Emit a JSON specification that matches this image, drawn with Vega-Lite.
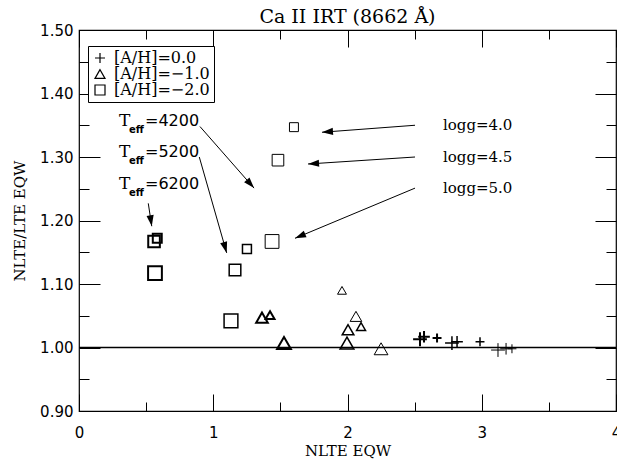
{
  "$schema": "https://vega.github.io/schema/vega-lite/v6.json",
  "width": 537,
  "height": 381,
  "autosize": {"type": "none"},
  "padding": {"left": 79, "top": 30, "right": 1, "bottom": 55},
  "background": "white",
  "title": {"text": "Ca II IRT (8662 Å)", "anchor": "middle", "frame": "group", "offset": -4, "font": "DejaVu Serif", "fontSize": 19, "fontWeight": "normal", "color": "black"},
  "config": {
    "view": {"stroke": "black", "strokeWidth": 1.2},
    "axis": {"domain": false, "grid": false, "tickColor": "black", "tickWidth": 1, "labelColor": "black", "titleColor": "black", "labelFont": "DejaVu Sans", "labelFontSize": 15, "titleFont": "DejaVu Serif", "titleFontSize": 15, "titleFontWeight": "normal"}
  },
  "datasets": {
    "pts": [
      {"ah": "[A/H]=−2.0", "teff": 4200, "logg": "4.0", "x": 1.601, "y": 1.347},
      {"ah": "[A/H]=−2.0", "teff": 4200, "logg": "4.5", "x": 1.482, "y": 1.295},
      {"ah": "[A/H]=−2.0", "teff": 4200, "logg": "5.0", "x": 1.438, "y": 1.167},
      {"ah": "[A/H]=−2.0", "teff": 5200, "logg": "4.0", "x": 1.251, "y": 1.155},
      {"ah": "[A/H]=−2.0", "teff": 5200, "logg": "4.5", "x": 1.162, "y": 1.122},
      {"ah": "[A/H]=−2.0", "teff": 5200, "logg": "5.0", "x": 1.132, "y": 1.042},
      {"ah": "[A/H]=−2.0", "teff": 6200, "logg": "4.0", "x": 0.583, "y": 1.172},
      {"ah": "[A/H]=−2.0", "teff": 6200, "logg": "4.5", "x": 0.559, "y": 1.167},
      {"ah": "[A/H]=−2.0", "teff": 6200, "logg": "5.0", "x": 0.566, "y": 1.117},
      {"ah": "[A/H]=−1.0", "teff": 4200, "logg": "4.0", "x": 1.959, "y": 1.090},
      {"ah": "[A/H]=−1.0", "teff": 4200, "logg": "4.5", "x": 2.063, "y": 1.049},
      {"ah": "[A/H]=−1.0", "teff": 4200, "logg": "5.0", "x": 2.250, "y": 0.998},
      {"ah": "[A/H]=−1.0", "teff": 5200, "logg": "4.0", "x": 2.101, "y": 1.033},
      {"ah": "[A/H]=−1.0", "teff": 5200, "logg": "4.5", "x": 2.004, "y": 1.028},
      {"ah": "[A/H]=−1.0", "teff": 5200, "logg": "5.0", "x": 1.996, "y": 1.007},
      {"ah": "[A/H]=−1.0", "teff": 6200, "logg": "4.0", "x": 1.423, "y": 1.051},
      {"ah": "[A/H]=−1.0", "teff": 6200, "logg": "4.5", "x": 1.363, "y": 1.047},
      {"ah": "[A/H]=−1.0", "teff": 6200, "logg": "5.0", "x": 1.527, "y": 1.007},
      {"ah": "[A/H]=0.0", "teff": 4200, "logg": "4.0", "x": 3.225, "y": 0.998},
      {"ah": "[A/H]=0.0", "teff": 4200, "logg": "4.5", "x": 3.181, "y": 0.998},
      {"ah": "[A/H]=0.0", "teff": 4200, "logg": "5.0", "x": 3.121, "y": 0.996},
      {"ah": "[A/H]=0.0", "teff": 5200, "logg": "4.0", "x": 2.987, "y": 1.009},
      {"ah": "[A/H]=0.0", "teff": 5200, "logg": "4.5", "x": 2.816, "y": 1.009},
      {"ah": "[A/H]=0.0", "teff": 5200, "logg": "5.0", "x": 2.778, "y": 1.007},
      {"ah": "[A/H]=0.0", "teff": 6200, "logg": "4.0", "x": 2.667, "y": 1.015},
      {"ah": "[A/H]=0.0", "teff": 6200, "logg": "4.5", "x": 2.570, "y": 1.017},
      {"ah": "[A/H]=0.0", "teff": 6200, "logg": "5.0", "x": 2.540, "y": 1.013}
    ],
    "arrows": [
      {"x": 0.901, "y": 1.348, "x2": 1.304, "y2": 1.251},
      {"x": 0.896, "y": 1.300, "x2": 1.100, "y2": 1.149},
      {"x": 0.516, "y": 1.227, "x2": 0.542, "y2": 1.191},
      {"x": 2.503, "y": 1.350, "x2": 1.810, "y2": 1.339},
      {"x": 2.503, "y": 1.300, "x2": 1.706, "y2": 1.289},
      {"x": 2.503, "y": 1.251, "x2": 1.609, "y2": 1.172}
    ],
    "logg": [
      {"label": "logg=4.0", "x": 2.711, "y": 1.350},
      {"label": "logg=4.5", "x": 2.711, "y": 1.300},
      {"label": "logg=5.0", "x": 2.711, "y": 1.251}
    ],
    "teff": [
      {"t": "T", "sub": "eff", "rest": "=4200", "x": 0.298, "y": 1.357},
      {"t": "T", "sub": "eff", "rest": "=5200", "x": 0.298, "y": 1.308},
      {"t": "T", "sub": "eff", "rest": "=6200", "x": 0.298, "y": 1.257}
    ]
  },
  "resolve": {"axis": {"x": "independent", "y": "independent"}},
  "layer": [
    {
      "data": {"values": [{"a": 1}]},
      "mark": {"type": "rule", "color": "black", "strokeWidth": 1.5},
      "encoding": {
        "x": {"datum": 0, "type": "quantitative", "scale": {"domain": [0, 4], "nice": false, "zero": false},
          "axis": {"orient": "top", "values": [0, 0.5, 1, 1.5, 2, 2.5, 3, 3.5, 4], "labels": false, "title": null,
            "tickSize": {"condition": {"test": "datum.value % 1 === 0", "value": -17}, "value": -9}}},
        "x2": {"datum": 4},
        "y": {"datum": 1.0, "type": "quantitative", "scale": {"domain": [0.9, 1.5], "nice": false, "zero": false},
          "axis": {"orient": "right", "values": [0.9, 0.95, 1.0, 1.05, 1.1, 1.15, 1.2, 1.25, 1.3, 1.35, 1.4, 1.45, 1.5], "labels": false, "title": null,
            "tickSize": {"condition": {"test": "abs(datum.value*10 - round(datum.value*10)) < 0.001", "value": -21}, "value": -10}}}
      }
    },
    {
      "data": {"name": "pts"},
      "mark": {"type": "point", "filled": false, "color": "black", "opacity": 1},
      "encoding": {
        "x": {"field": "x", "type": "quantitative",
          "axis": {"orient": "bottom", "values": [0, 0.5, 1, 1.5, 2, 2.5, 3, 3.5, 4],
            "labelExpr": "datum.value % 1 === 0 ? format(datum.value, 'd') : ''",
            "tickSize": {"condition": {"test": "datum.value % 1 === 0", "value": -17}, "value": -9},
            "labelPadding": 31, "labelFlush": false, "title": "NLTE EQW", "titlePadding": 3}},
        "y": {"field": "y", "type": "quantitative",
          "axis": {"orient": "left", "values": [0.9, 0.95, 1.0, 1.05, 1.1, 1.15, 1.2, 1.25, 1.3, 1.35, 1.4, 1.45, 1.5],
            "labelExpr": "abs(datum.value*10 - round(datum.value*10)) < 0.001 ? format(datum.value, '.2f') : ''",
            "tickSize": {"condition": {"test": "abs(datum.value*10 - round(datum.value*10)) < 0.001", "value": -21}, "value": -10},
            "labelPadding": 27, "labelFlush": false, "title": "NLTE/LTE EQW", "titlePadding": 12}},
        "shape": {"field": "ah", "type": "nominal",
          "scale": {"domain": ["[A/H]=0.0", "[A/H]=−1.0", "[A/H]=−2.0"], "range": ["M-1,0L1,0M0,-1L0,1", "triangle-up", "square"]},
          "legend": {"title": null, "orient": "none", "legendX": 9, "legendY": 16, "strokeColor": "black", "fillColor": "white", "padding": 4, "symbolSize": 100, "symbolStrokeWidth": 1.2, "symbolStrokeColor": "black", "symbolFillColor": "white", "labelFont": "DejaVu Serif", "labelFontSize": 16, "labelColor": "black", "rowPadding": 0, "labelOffset": 6}},
        "size": {"field": "logg", "type": "ordinal", "scale": {"domain": ["4.0", "4.5", "5.0"], "range": [80, 190, 320]}, "legend": null},
        "strokeWidth": {"field": "teff", "type": "ordinal", "scale": {"domain": [4200, 5200, 6200], "range": [1, 2, 4]}, "legend": null}
      }
    },
    {
      "data": {"name": "arrows"},
      "mark": {"type": "rule", "color": "black", "strokeWidth": 1},
      "encoding": {
        "x": {"field": "x", "type": "quantitative", "axis": null},
        "y": {"field": "y", "type": "quantitative", "axis": null},
        "x2": {"field": "x2"},
        "y2": {"field": "y2"}
      }
    },
    {
      "data": {"name": "arrows"},
      "transform": [{"calculate": "atan2((datum.x2 - datum.x) * 134.25, (datum.y2 - datum.y) * 635) * 180 / PI", "as": "ang"}],
      "mark": {"type": "point", "filled": true, "color": "black", "opacity": 1, "shape": "M0,0L-0.65,2L0.65,2Z", "size": 121, "strokeWidth": 0},
      "encoding": {
        "x": {"field": "x2", "type": "quantitative", "axis": null},
        "y": {"field": "y2", "type": "quantitative", "axis": null},
        "angle": {"field": "ang", "type": "quantitative", "scale": null}
      }
    },
    {
      "data": {"name": "logg"},
      "mark": {"type": "text", "align": "left", "baseline": "middle", "font": "DejaVu Serif", "fontSize": 15, "color": "black"},
      "encoding": {
        "x": {"field": "x", "type": "quantitative", "axis": null},
        "y": {"field": "y", "type": "quantitative", "axis": null},
        "text": {"field": "label"}
      }
    },
    {
      "data": {"name": "teff"},
      "mark": {"type": "text", "align": "left", "baseline": "middle", "font": "DejaVu Serif", "fontSize": 17, "color": "black"},
      "encoding": {
        "x": {"field": "x", "type": "quantitative", "axis": null},
        "y": {"field": "y", "type": "quantitative", "axis": null},
        "text": {"field": "t"}
      }
    },
    {
      "data": {"name": "teff"},
      "mark": {"type": "text", "align": "left", "baseline": "middle", "font": "DejaVu Sans", "fontSize": 10, "fontWeight": "bold", "color": "black", "dx": 10, "dy": 9},
      "encoding": {
        "x": {"field": "x", "type": "quantitative", "axis": null},
        "y": {"field": "y", "type": "quantitative", "axis": null},
        "text": {"field": "sub"}
      }
    },
    {
      "data": {"name": "teff"},
      "mark": {"type": "text", "align": "left", "baseline": "middle", "font": "DejaVu Sans", "fontSize": 16, "color": "black", "dx": 26},
      "encoding": {
        "x": {"field": "x", "type": "quantitative", "axis": null},
        "y": {"field": "y", "type": "quantitative", "axis": null},
        "text": {"field": "rest"}
      }
    }
  ]
}
